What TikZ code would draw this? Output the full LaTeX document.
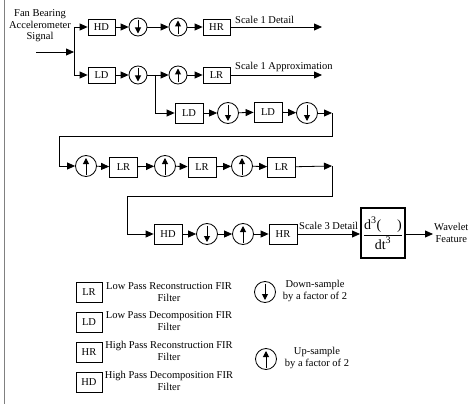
\documentclass[tikz,border=0pt]{standalone}
\usepackage{fontspec}
\setmainfont{Liberation Serif}
\usetikzlibrary{arrows.meta}
\begin{document}
\begin{tikzpicture}[x=1pt,y=-1pt,
  every node/.style={font=\fontsize{10.5}{12}\selectfont},
  ln/.style={line width=0.8pt},
  arr/.style={ln,-{Triangle[length=8pt,width=7pt]}},
  fbox/.style={draw,ln,minimum width=27pt,minimum height=16pt,inner sep=0pt},
  fboxb/.style={draw,ln,minimum width=28pt,minimum height=20pt,inner sep=0pt},
  samp/.style={circle,draw,ln,minimum size=18pt,inner sep=0pt},
  sampb/.style={circle,draw,ln,minimum size=21pt,inner sep=0pt},
  dn/.style={path picture={\draw[line width=1pt,-{Triangle[length=6pt,width=6pt]}] ([yshift=-2pt]path picture bounding box.north) -- ([yshift=2.5pt]path picture bounding box.south);}},
  upa/.style={path picture={\draw[line width=1pt,-{Triangle[length=6pt,width=6pt]}] ([yshift=2pt]path picture bounding box.south) -- ([yshift=-2.5pt]path picture bounding box.north);}},
  lbl/.style={anchor=south west,inner sep=1pt}
]
\useasboundingbox (0,0) rectangle (474,404);
\draw[gray,line width=1.2pt] (4.5,0) -- (4.5,404);

% input
\node[align=center,font=\fontsize{10.5}{11.5}\selectfont] (in) at (40,26) {Fan Bearing\\Accelerometer\\Signal};
\coordinate (s) at (36,52);
\coordinate (j) at (74,52);
\coordinate (j1) at (74,27);
\coordinate (j2) at (74,75);
\draw[arr] (s) -- (j);
\draw[ln] (j1) -- (j2);

% row 1
\node[fbox] (hd1) at (101.5,27) {HD};
\node[samp,dn] (d1) at (138,27) {};
\node[samp,upa] (u1) at (178,27) {};
\node[fbox] (hr1) at (216.5,27) {HR};
\coordinate (e1) at (322,27);
\draw[arr] (j1) -- (hd1);
\draw[arr] (hd1) -- (d1);
\draw[arr] (d1) -- (u1);
\draw[arr] (u1) -- (hr1);
\draw[arr] (hr1) -- (e1);
\node[lbl] (t1) at (234,25) {Scale 1 Detail};

% row 2
\node[fbox] (ld2) at (101.5,75) {LD};
\node[samp,dn] (d2) at (138,75) {};
\node[samp,upa] (u2) at (178,75) {};
\node[fbox] (lr2) at (216.5,75) {LR};
\coordinate (e2) at (322,75);
\coordinate (b2) at (155,75);
\draw[arr] (j2) -- (ld2);
\draw[arr] (ld2) -- (d2);
\draw[arr] (d2) -- (u2);
\draw[arr] (u2) -- (lr2);
\draw[arr] (lr2) -- (e2);
\node[lbl] (t2) at (234,73) {Scale 1 Approximation};

% row 3
\node[fboxb] (ld3) at (189,113) {LD};
\node[sampb,dn] (d3) at (228,113) {};
\node[fboxb] (ld3b) at (268,112) {LD};
\node[sampb,dn] (d3b) at (307,113) {};
\coordinate (c3) at (332,113);
\coordinate (k1) at (59,136);
\draw[arr] (b2) |- (ld3);
\draw[arr] (ld3) -- (d3);
\draw[arr] (d3) -- (ld3b);
\draw[arr] (ld3b) -- (d3b);
\draw[arr] (d3b) -- (c3);

% row 4
\node[sampb,upa] (u4a) at (86,166) {};
\node[fboxb] (lr4a) at (123.5,167) {LR};
\node[sampb,upa] (u4b) at (165,166) {};
\node[fboxb] (lr4b) at (202,167) {LR};
\node[sampb,upa] (u4c) at (242,166) {};
\node[fboxb] (lr4c) at (281.5,167) {LR};
\coordinate (c4) at (332,166);
\coordinate (k2) at (127,196);
\draw[arr] (c3) |- (k1) |- (u4a);
\draw[arr] (u4a) -- (lr4a);
\draw[arr] (lr4a) -- (u4b);
\draw[arr] (u4b) -- (lr4b);
\draw[arr] (lr4b) -- (u4c);
\draw[arr] (u4c) -- (lr4c);
\draw[arr] (lr4c) -- (c4);

% row 5
\node[fboxb] (hd5) at (168,234) {HD};
\node[sampb,dn] (d5) at (207,234) {};
\node[sampb,upa] (u5) at (243,234) {};
\node[fboxb] (hr5) at (283,234) {HR};
\node[draw,line width=2pt,minimum width=44pt,minimum height=50pt,inner sep=0pt,font=\fontsize{14}{16}\selectfont] (der) at (383,233)
  {$\displaystyle\frac{\textrm{d}^{\textrm{\fontsize{10}{10}\selectfont 3}}\textrm{(}\;\;\;\;\textrm{)}}{\textrm{dt}^{\textrm{\fontsize{10}{10}\selectfont 3}}}$};
\coordinate (wf) at (433,234);
\draw[arr] (c4) |- (k2) |- (hd5);
\draw[arr] (hd5) -- (d5);
\draw[arr] (d5) -- (u5);
\draw[arr] (u5) -- (hr5);
\draw[arr] (hr5) -- (hr5 -| der.west);
\draw[arr] (der.east |- wf) -- (wf);
\node[lbl] (t3) at (298,231) {Scale 3 Detail};
\node[align=center,anchor=west,inner sep=0pt] (wl) at (434,233) {Wavelet\\Feature};

% legend
\node[draw,ln,minimum width=26pt,minimum height=20pt,inner sep=0pt] (gl1) at (89,292) {LR};
\node[draw,ln,minimum width=26pt,minimum height=20pt,inner sep=0pt] (gl2) at (89,322) {LD};
\node[draw,ln,minimum width=26pt,minimum height=20pt,inner sep=0pt] (gl3) at (89,352) {HR};
\node[draw,ln,minimum width=26pt,minimum height=20pt,inner sep=0pt] (gl4) at (89,382) {HD};
\node[align=center] (gt1) at (169,292) {Low Pass Reconstruction FIR\\Filter};
\node[align=center] (gt2) at (169,321) {Low Pass Decomposition FIR\\Filter};
\node[align=center] (gt3) at (169,351) {High Pass Reconstruction FIR\\Filter};
\node[align=center] (gt4) at (169,381) {High Pass Decomposition FIR\\Filter};
\node[sampb,dn] (gd) at (265,292) {};
\node[sampb,upa] (gu) at (266,359) {};
\node[align=center] (gdt) at (315,291) {Down-sample\\by a factor of 2};
\node[align=center] (gut) at (317,358) {Up-sample\\by a factor of 2};
\end{tikzpicture}
\end{document}
